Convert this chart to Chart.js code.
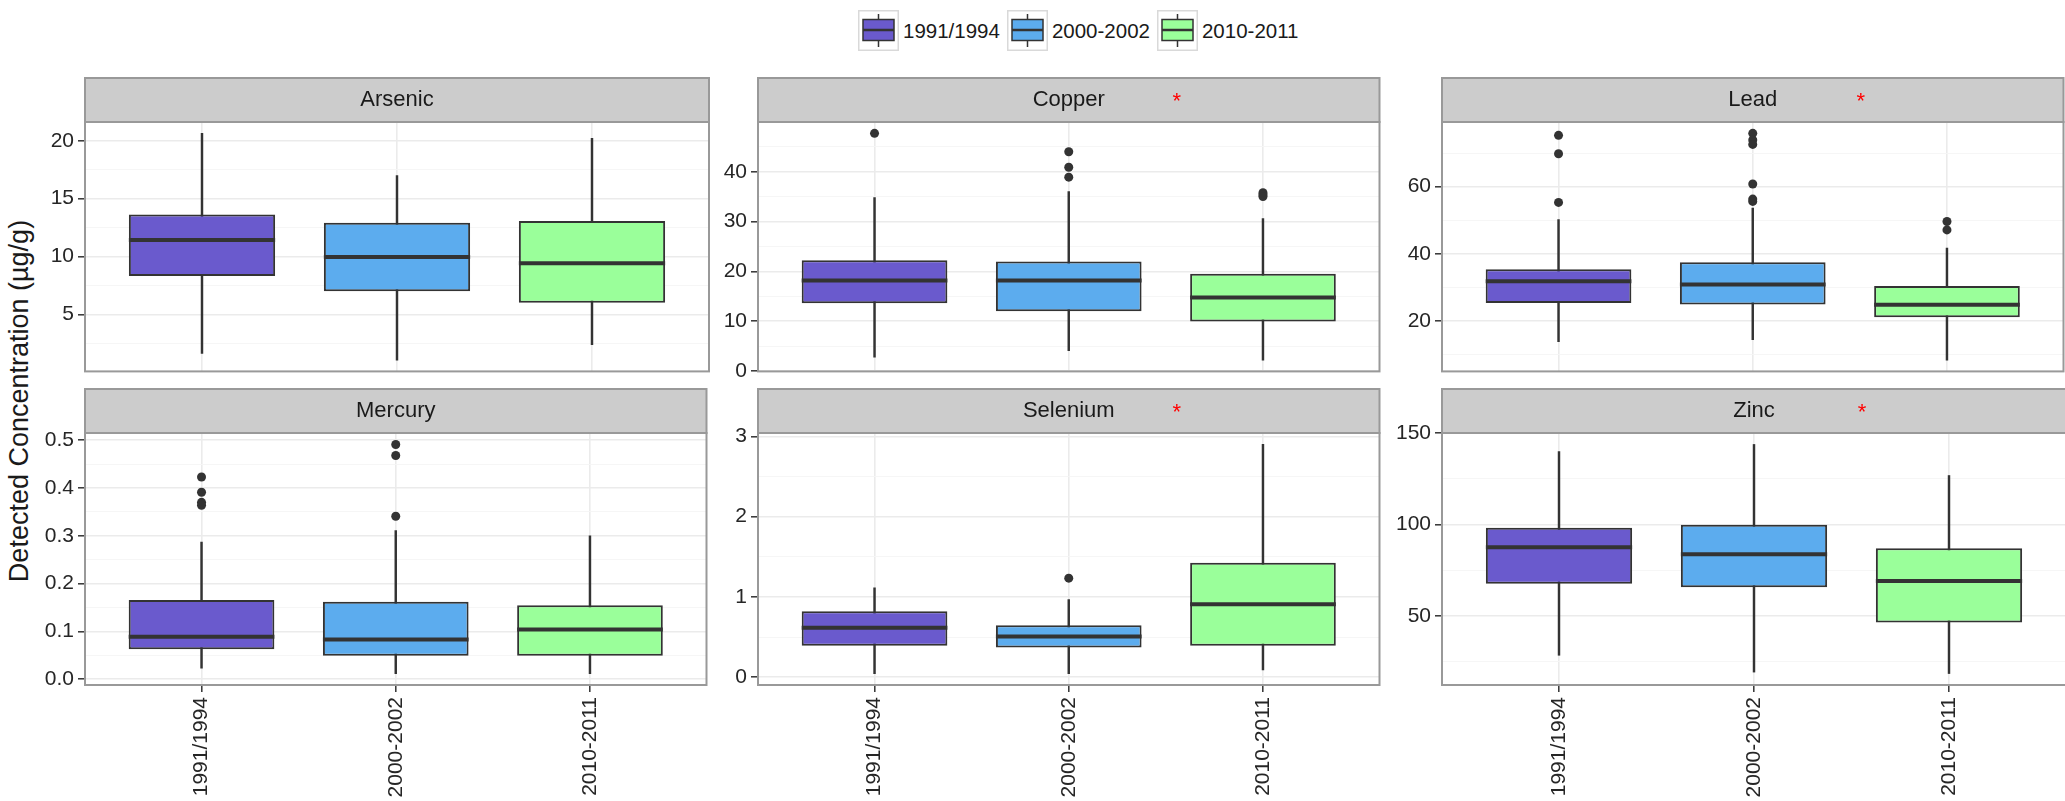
<!DOCTYPE html>
<html>
<head>
<meta charset="utf-8">
<script src="https://cdn.jsdelivr.net/npm/chart.js@4.4.1/dist/chart.umd.min.js"></script>
<style>
html,body{margin:0;padding:0;background:#fff;width:2065px;height:801px;overflow:hidden;position:relative;font-family:'Liberation Sans',Arial,sans-serif;}
canvas{position:absolute;}
#legend{position:absolute;left:858px;top:10px;display:flex;align-items:center;}
.item{display:flex;align-items:center;margin-right:7px;}
.item svg{display:block;}
.lbl{font-size:20.5px;color:#1a1a1a;margin-left:4px;}
#ytitle{position:absolute;left:19px;top:401px;transform:translate(-50%,-50%) rotate(-90deg);font-size:27px;white-space:nowrap;color:#1a1a1a;}
</style>
</head>
<body>
<div id="legend"></div>
<div id="ytitle">Detected Concentration (µg/g)</div>
<script>
// ---------------- data ----------------
const periods = ['1991/1994', '2000-2002', '2010-2011'];
const elements = ['Arsenic', 'Copper', 'Lead', 'Mercury', 'Selenium', 'Zinc'];
const significant = [false, true, true, false, true, true];

const whiskerLow = [[1.62, 1.05, 2.37], [2.78, 4.1, 2.2], [13.8, 14.4, 8.3], [0.023, 0.012, 0.012], [0.045, 0.045, 0.091], [28.4, 19.2, 18.4]];
const q1 = [[8.32, 7.0, 6.0], [13.58, 12.0, 9.93], [25.3, 24.9, 21.1], [0.063, 0.049, 0.049], [0.392, 0.371, 0.392], [67.6, 65.6, 46.3]];
const median = [[11.43, 9.97, 9.43], [18.15, 18.15, 14.77], [31.8, 30.8, 24.8], [0.089, 0.083, 0.104], [0.617, 0.508, 0.909], [87.6, 83.7, 69.1]];
const q3 = [[13.64, 12.93, 13.07], [22.25, 22.0, 19.5], [35.4, 37.5, 30.4], [0.166, 0.162, 0.155], [0.821, 0.646, 1.427], [98.2, 99.8, 87.0]];
const whiskerHigh = [[20.65, 17.0, 20.22], [34.8, 36.0, 30.6], [50.2, 53.6, 41.7], [0.287, 0.311, 0.30], [1.114, 0.967, 2.90], [139.9, 143.8, 126.8]];
const outliers = [
  [[], [], []],
  [[47.7], [44.0, 40.9, 38.9], [35.8, 35.4, 35.0]],
  [[75.3, 69.8, 55.3], [75.9, 73.9, 72.6, 60.8, 56.3, 55.6], [49.6, 47.1]],
  [[0.423, 0.391, 0.370, 0.364], [0.491, 0.468, 0.341], []],
  [[], [1.234], []],
  [[], [], []]
];
const majorStep = [5, 10, 20, 0.1, 1, 50];

// ---------------- style ----------------
const fillColors = ['#6A5ACD', '#5CACEE', '#9AFF9A'];
const FONT = "'Liberation Sans', Arial, sans-serif";
const colLeft = [85, 758, 1442];
const rowTop = [77, 388];
const AXW = 70, PW = 624, STRIP = 45, PH = 252;
const TICKCOL = '#262626';

Chart.defaults.font.family = FONT;

// legend
const legend = document.getElementById('legend');
periods.forEach((p, j) => {
  const item = document.createElement('div');
  item.className = 'item';
  item.innerHTML =
    '<svg width="41" height="41" viewBox="0 0 41 41">' +
    '<rect x="0.75" y="0.75" width="39.5" height="39.5" fill="#fff" stroke="#d9d9d9" stroke-width="1.5"/>' +
    '<line x1="20.5" y1="4" x2="20.5" y2="37" stroke="#333" stroke-width="1.5"/>' +
    '<rect x="5" y="9.5" width="31" height="21" fill="' + fillColors[j] + '" stroke="#333" stroke-width="1.5"/>' +
    '<line x1="5" y1="20" x2="36" y2="20" stroke="#333" stroke-width="2.5"/>' +
    '</svg><span class="lbl">' + p + '</span>';
  legend.appendChild(item);
});

const panelPlugin = {
  id: 'panel',
  beforeDraw(chart, args, opts) {
    const ctx = chart.ctx, a = chart.chartArea;
    ctx.save();
    ctx.fillStyle = '#fff';
    ctx.fillRect(a.left, a.top, a.right - a.left, a.bottom - a.top);
    const top = a.top - STRIP + 1;
    ctx.fillStyle = '#cccccc';
    ctx.fillRect(a.left, top, a.right - a.left, a.top - top);
    ctx.strokeStyle = '#999';
    ctx.lineWidth = 2;
    ctx.strokeRect(a.left, top, a.right - a.left, a.top - top);
    const cx = (a.left + a.right) / 2, cy = (top + a.top) / 2;
    ctx.font = '22px ' + FONT;
    ctx.textAlign = 'center';
    ctx.textBaseline = 'middle';
    ctx.fillStyle = '#1a1a1a';
    ctx.fillText(opts.title, cx, cy);
    if (opts.star) {
      ctx.fillStyle = '#ff0000';
      ctx.fillText('*', cx + 108, cy + 2);
    }
    ctx.restore();
  },
  afterDatasetsDraw(chart, args, opts) {
    const ctx = chart.ctx, a = chart.chartArea, ys = chart.scales.y;
    const meta = chart.getDatasetMeta(1);
    ctx.save();
    ctx.strokeStyle = '#333';
    ctx.lineWidth = 4;
    meta.data.forEach((el, j) => {
      const py = ys.getPixelForValue(opts.medians[j]);
      ctx.beginPath();
      ctx.moveTo(el.x - el.width / 2, py);
      ctx.lineTo(el.x + el.width / 2, py);
      ctx.stroke();
    });
    ctx.strokeStyle = '#999';
    ctx.lineWidth = 2;
    ctx.strokeRect(a.left, a.top, a.right - a.left, a.bottom - a.top);
    ctx.restore();
  }
};

elements.forEach((name, i) => {
  const col = i % 3, row = Math.floor(i / 3);
  const w = AXW + PW + 2;
  const h = STRIP + PH + (row ? 116 : 14);
  const cv = document.createElement('canvas');
  cv.width = w; cv.height = h;
  cv.style.left = (colLeft[col] - AXW) + 'px';
  cv.style.top = rowTop[row] + 'px';
  cv.style.width = w + 'px'; cv.style.height = h + 'px';
  document.body.appendChild(cv);

  // axis limits (ggplot-style 5% expansion of data range)
  const all = whiskerLow[i].concat(whiskerHigh[i]).concat(...outliers[i]);
  const lo = Math.min(...all), hi = Math.max(...all);
  const pad = (hi - lo) * 0.05;
  const ymin = lo - pad, ymax = hi + pad;
  const major = majorStep[i], minor = major / 2;
  const isMajor = v => v !== undefined && Math.abs(v / major - Math.round(v / major)) < 1e-6;
  const decimals = major < 1 ? 1 : 0;

  const xs = [1, 2, 3];
  const outPts = [];
  outliers[i].forEach((arr, j) => arr.forEach(v => outPts.push({ x: xs[j], y: v })));

  new Chart(cv, {
    type: 'bar',
    data: {
      labels: xs,
      datasets: [
        {
          type: 'bar', label: 'whisker',
          data: xs.map((x, j) => ({ x: x, y: [whiskerLow[i][j], whiskerHigh[i][j]] })),
          backgroundColor: '#333', borderWidth: 0, barThickness: 1.8, grouped: false, order: 3
        },
        {
          type: 'bar', label: 'box',
          data: xs.map((x, j) => ({ x: x, y: [q1[i][j], q3[i][j]] })),
          backgroundColor: fillColors, borderColor: '#333', borderWidth: 2, borderSkipped: false,
          barPercentage: 0.75, categoryPercentage: 1, grouped: false, order: 2
        },
        {
          type: 'scatter', label: 'outliers',
          data: outPts, pointRadius: 4.5, pointHoverRadius: 4.5,
          backgroundColor: '#333', borderWidth: 0, order: 1
        }
      ]
    },
    options: {
      responsive: false, animation: false, devicePixelRatio: 1,
      layout: { padding: { top: STRIP, right: 2, bottom: row ? 0 : 14, left: 0 } },
      plugins: {
        legend: { display: false }, tooltip: { enabled: false },
        panel: { title: name, star: significant[i], medians: median[i] }
      },
      scales: {
        x: {
          type: 'linear', min: 0.4, max: 3.6, offset: false,
          afterBuildTicks: s => { s.ticks = xs.map(v => ({ value: v })); },
          afterFit: s => { s.height = row ? 116 : 0; },
          ticks: {
            display: row === 1, autoSkip: false, minRotation: 90, maxRotation: 90,
            font: { size: 21, family: FONT }, color: TICKCOL, padding: 5,
            callback: v => periods[Math.round(v) - 1]
          },
          grid: {
            offset: false, color: '#ebebeb', lineWidth: 1.6, drawTicks: row === 1,
            tickLength: 7, tickColor: '#333', tickWidth: 1.5
          },
          border: { display: false }
        },
        y: {
          type: 'linear', min: ymin, max: ymax,
          afterBuildTicks: s => {
            const t = [];
            for (let k = Math.ceil(ymin / minor - 1e-9); k * minor <= ymax + 1e-9; k++) {
              t.push({ value: Math.round(k * minor * 1e6) / 1e6 });
            }
            s.ticks = t;
          },
          afterFit: s => { s.width = AXW; },
          ticks: {
            autoSkip: false, font: { size: 21, family: FONT }, color: TICKCOL, padding: 4,
            callback: v => isMajor(v) ? v.toFixed(decimals) : ''
          },
          grid: {
            color: c => isMajor(c.tick && c.tick.value) ? '#ebebeb' : '#f5f5f5',
            lineWidth: c => isMajor(c.tick && c.tick.value) ? 1.6 : 0.9,
            tickLength: 7, tickWidth: 1.5,
            tickColor: c => isMajor(c.tick && c.tick.value) ? '#333' : 'rgba(0,0,0,0)'
          },
          border: { display: false }
        }
      }
    },
    plugins: [panelPlugin]
  });
});
</script>
</body>
</html>
